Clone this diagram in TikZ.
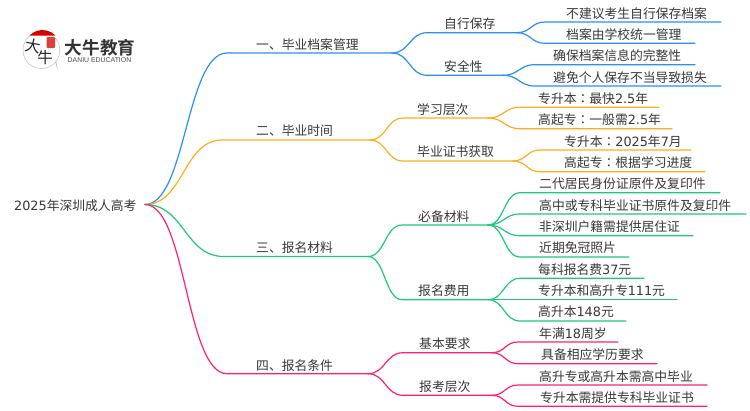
\documentclass[tikz,border=0pt]{standalone}
\usepackage{fontspec}
\setmainfont{Noto Sans CJK SC}[Scale=1]
\newfontfamily\dgf{DejaVu Sans}
\newfontfamily\tcf{Noto Sans CJK TC}
\newfontfamily\hbf{Noto Sans CJK SC Bold}
\newfontfamily\lsf{Liberation Sans}
\newcommand{\dg}[1]{{\dgf #1}}
\newcommand{\cln}{{\tcf ：}}
\usetikzlibrary{calc}
\definecolor{cblue}{HTML}{2B8FF7}
\definecolor{corange}{HTML}{FFAD1F}
\definecolor{cgreen}{HTML}{1FC77F}
\definecolor{cpink}{HTML}{FF1F78}
\definecolor{ctext}{HTML}{383838}
\tikzset{
  lab/.style={inner sep=0pt,anchor=west,text=ctext,font=\fontsize{12.8}{14}\selectfont,text height=11pt,text depth=2pt},
  wire/.style={line width=1.2pt,line cap=round,line join=round},
}
% id, colour, hub, startx, endx, y, textx, texty, text
\newcommand{\Br}[9]{%
  \coordinate (#1s) at (#4,#6);
  \coordinate (#1) at (#5,#6);
  \node[lab] (#1t) at (#7,#8) {#9};
  \draw[wire,#2] let \p1=(#3),\p2=(#1s) in (#3) .. controls ({0.5*\x1+0.5*\x2},\y1) and ({0.5*\x1+0.5*\x2},\y2) .. (#1s) -- (#1);
}
\begin{document}
\begin{tikzpicture}[x=1pt,y=-1pt]
\useasboundingbox (0,0) rectangle (750,410);
% logo
\fill[white] (0,0) rectangle (750,410);
\draw[black!25,line width=.5pt,fill=white] (55.5,62) arc[start angle=40,end angle=398,radius=18.4] -- (57.5,69) -- cycle;
\fill[red!85!black] (29.5,35.5) arc[start angle=224,end angle=316,radius=18] -- cycle;
\fill[red!70!white!85!black,rounded corners=1pt] (46.5,37) rectangle (55,48);
\node[inner sep=0pt,text=black!85,font=\fontsize{15.5}{15}\selectfont,rotate=-10] (logoA) at (33,46) {大};
\node[inner sep=0pt,text=black!85,font=\fontsize{15.5}{15}\selectfont] (logoB) at (45,58) {牛};
\node[inner sep=0pt,anchor=center,text=black!80,font=\hbf\fontsize{17.6}{18}\selectfont] (logoC) at (100,48) {大牛教育};
\node[inner sep=0pt,anchor=center,text=black!70,font=\lsf\fontsize{6.9}{7}\selectfont] (logoD) at (99.5,60.5) {DANIU EDUCATION};
% root
\node[lab] (root) at (14,205.5) {\dg{2025}年深圳成人高考};
\coordinate (hub) at (145,204.5);
% level one
\Br{A}{cblue}{hub}{227}{392}{53}{256}{45}{一、毕业档案管理}
\Br{B}{corange}{hub}{222}{370}{140}{256}{131}{二、毕业时间}
\Br{C}{cgreen}{hub}{224}{368}{256.5}{256}{248}{三、报名材料}
\Br{D}{cpink}{hub}{227}{368}{373.7}{256}{366}{四、报名条件}
% blue
\Br{A1}{cblue}{A}{427}{517}{32.7}{444}{24}{自行保存}
\Br{A2}{cblue}{A}{427}{503}{75.3}{444}{66.7}{安全性}
\Br{A1a}{cblue}{A1}{545}{721}{22}{566}{13.5}{不建议考生自行保存档案}
\Br{A1b}{cblue}{A1}{545}{695}{43.3}{566}{35}{档案由学校统一管理}
\Br{A2a}{cblue}{A2}{535}{695}{64.7}{553}{56}{确保档案信息的完整性}
\Br{A2b}{cblue}{A2}{535}{721}{86}{553}{77.7}{避免个人保存不当导致损失}
% orange
\Br{B1}{corange}{B}{403}{488}{118}{417}{109.5}{学习层次}
\Br{B2}{corange}{B}{403}{513}{161}{417}{152}{毕业证书获取}
\Br{B1a}{corange}{B1}{520}{659}{107.3}{538}{98.7}{专升本\cln 最快\dg{2.5}年}
\Br{B1b}{corange}{B1}{520}{672}{128.7}{538}{120}{高起专\cln 一般需\dg{2.5}年}
\Br{B2a}{corange}{B2}{540}{691}{150}{564}{141.7}{专升本\cln\dg{2025}年\dg{7}月}
\Br{B2b}{corange}{B2}{540}{705}{171.7}{564}{163}{高起专\cln 根据学习进度}
% green
\Br{C1}{cgreen}{C}{402}{488}{225}{418}{216.7}{必备材料}
\Br{C2}{cgreen}{C}{402}{488}{299.7}{418}{291}{报名费用}
\Br{C1a}{cgreen}{C1}{520}{720}{192.7}{539}{184.3}{二代居民身份证原件及复印件}
\Br{C1b}{cgreen}{C1}{520}{746}{214}{539}{206}{高中或专科毕业证书原件及复印件}
\Br{C1c}{cgreen}{C1}{520}{693}{235.7}{539}{227.3}{非深圳户籍需提供居住证}
\Br{C1d}{cgreen}{C1}{520}{629}{257}{539}{248.3}{近期免冠照片}
\Br{C2a}{cgreen}{C2}{520}{644}{278.3}{538}{269.7}{每科报名费\dg{37}元}
\Br{C2b}{cgreen}{C2}{520}{677}{299.7}{538}{291}{专升本和高升专\dg{111}元}
\Br{C2c}{cgreen}{C2}{520}{626}{321}{538}{312.3}{高升本\dg{148}元}
% pink
\Br{D1}{cpink}{D}{403}{492}{352.7}{419}{344.3}{基本要求}
\Br{D2}{cpink}{D}{403}{492}{395.3}{419}{387}{报考层次}
\Br{D1a}{cpink}{D1}{518}{618}{342}{539}{333.7}{年满\dg{18}周岁}
\Br{D1b}{cpink}{D1}{518}{657}{363.7}{541}{355.3}{具备相应学历要求}
\Br{D2a}{cpink}{D2}{518}{707}{385}{539}{376.7}{高升专或高升本需高中毕业}
\Br{D2b}{cpink}{D2}{518}{707}{406.3}{540}{397.7}{专升本需提供专科毕业证书}
\end{tikzpicture}
\end{document}
